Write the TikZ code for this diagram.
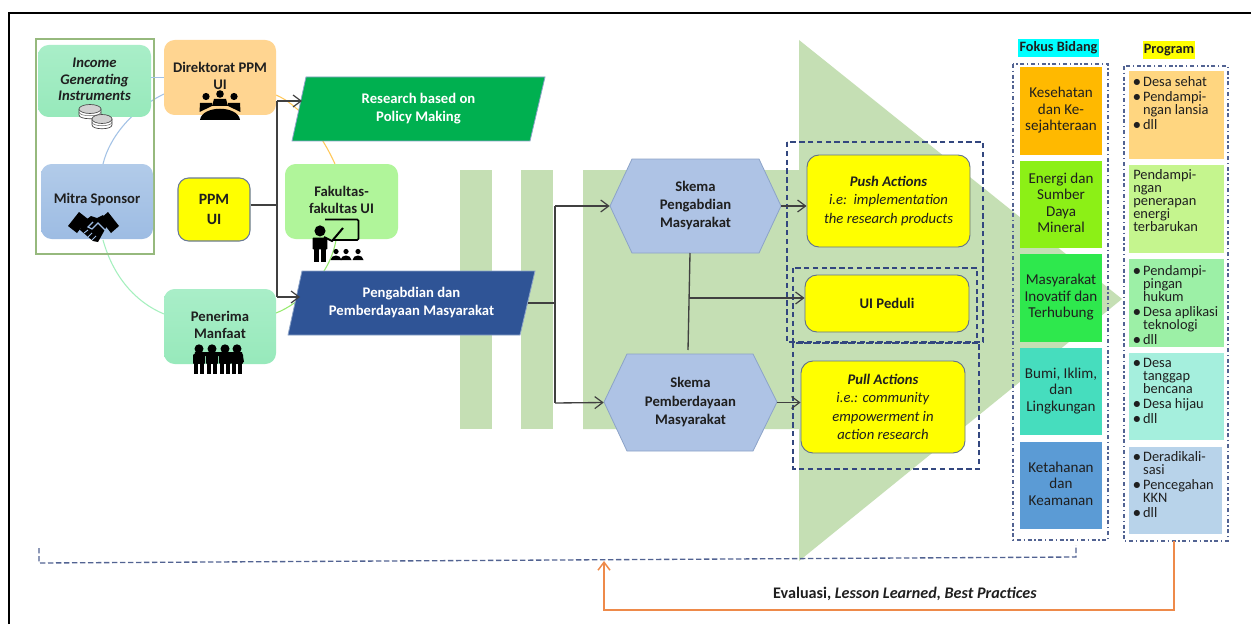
\documentclass[tikz,border=0pt]{standalone}
\usepackage{fontspec}
\setmainfont{Carlito}
\usetikzlibrary{arrows.meta}
\definecolor{yellow}{HTML}{FFFF00}
\definecolor{cyan}{HTML}{00FFFF}
\definecolor{barG}{HTML}{C5DFB4}
\definecolor{ink}{HTML}{1F1F1F}
\definecolor{dashB}{HTML}{33477F}
\definecolor{edgeB}{HTML}{8CA3C8}
\definecolor{orangeL}{HTML}{EE8A4A}
\definecolor{incT}{HTML}{A9EEC8}
\definecolor{incB}{HTML}{97E9BB}
\definecolor{mitT}{HTML}{B2CBE9}
\definecolor{mitB}{HTML}{9DBCE3}
\definecolor{penT}{HTML}{A9EEC8}
\definecolor{penB}{HTML}{97E9BB}
\definecolor{blueL}{HTML}{A3C2E6}
\definecolor{mintL}{HTML}{A5F0BE}
\definecolor{limeL}{HTML}{96EB6E}
\definecolor{amberL}{HTML}{FFC85A}
\definecolor{frameG}{HTML}{96B97D}
\newcommand{\bx}[7]{%
  \pgfmathsetmacro\bxw{(#4-#2)*0.75}\pgfmathsetmacro\bxh{(#5-#3)*0.75}%
  \node[#6,minimum width=\bxw pt,minimum height=\bxh pt] (#1) at ({(#2+#4)/2},{(#3+#5)/2}) {#7};}
\newcommand{\lines}[2]{\raisebox{#1}{\begin{tabular}{@{}c@{}}#2\end{tabular}}}
\newcommand{\fig}[3]{% x, top y, size
  \fill[black] (#1,{#2+#3*0.16}) circle[radius={#3*0.15}];
  \fill[black,rounded corners=0.6pt] ({#1-#3*0.2},{#2+#3*0.34}) rectangle ({#1+#3*0.2},{#2+#3*0.66});
  \fill[black] ({#1-#3*0.17},{#2+#3*0.6}) rectangle ({#1-#3*0.02},{#2+#3});
  \fill[black] ({#1+#3*0.02},{#2+#3*0.6}) rectangle ({#1+#3*0.17},{#2+#3});}
\newcommand{\seat}[2]{% small audience figure
  \fill[black] (#1,{#2-8.5}) circle[radius=2.6];
  \fill[black] ({#1-5.5},#2) .. controls ({#1-5},{#2-6}) and ({#1+5},{#2-6}) .. ({#1+5.5},#2) -- cycle;}
\newcommand{\coin}[3]{% x, y, half-width
  \draw[black!75,fill=white,line width=0.5pt] ({#1-#3},#2) -- ({#1-#3},{#2+6}) .. controls ({#1-#3},{#2+11}) and ({#1+#3},{#2+11}) .. ({#1+#3},{#2+6}) -- ({#1+#3},#2);
  \draw[black!70,fill=black!18,line width=0.5pt] (#1,#2) ellipse[x radius=#3,y radius=4.5];
  \draw[black!60,line width=0.4pt] ({#1-#3},{#2+3}) .. controls ({#1-#3},{#2+8}) and ({#1+#3},{#2+8}) .. ({#1+#3},{#2+3});}
\newcommand{\itm}{\makebox[7.4pt][l]{\raisebox{0.1pt}{\textbf{\textbullet}}}}
\newcommand{\ind}{\hspace*{7.4pt}}
\tikzset{
  x=0.75pt,y=-0.75pt,
  lbl/.style={inner sep=0pt,align=center,text=ink,font=\fontsize{11}{12.4}\selectfont},
  blbl/.style={lbl,font=\fontsize{11}{12.4}\selectfont\bfseries},
  round/.style={rounded corners=8pt,blbl},
  ybox/.style={rounded corners=9pt,draw=edgeB!70!black,line width=0.7pt,fill=yellow,lbl,font=\fontsize{11}{13.7}\selectfont},
  fokus/.style={lbl,font=\fontsize{11.3}{12.4}\selectfont},
  prog/.style={inner sep=0pt},
  progt/.style={inner sep=0pt,anchor=north west,align=left,text=ink,font=\fontsize{10.8}{9.8}\selectfont},
  poly/.style={draw=edgeB,line width=0.6pt},
  plain/.style={inner sep=0pt},
  wire/.style={draw=black!75,line width=1pt},
  tip/.style={wire,-{Straight Barb[length=6pt,width=9pt,line width=0.9pt]}},
  dbox/.style={draw=dashB,line width=1pt,dash pattern=on 4pt off 2.6pt},
  dotbox/.style={draw=dashB!85,line width=1.1pt,dash pattern=on 3pt off 2pt on 1pt off 2pt},
  assoc/.style={line width=0.8pt},
  shakeline/.style={draw=mitB}
}
\begin{document}
\begin{tikzpicture}
\useasboundingbox (0,0) rectangle (1251,624);
\fill[white] (0,0) rectangle (1251,624);
\draw[black,line width=1.6pt] (9,624) -- (9,13) -- (1251,13);

% background arrow
\fill[barG] (460,170) rectangle (492,429);
\fill[barG] (521,170) rectangle (553,429);
\fill[barG] (583,170) -- (799,170) -- (799,40) -- (1122,299) -- (799,561) -- (799,429) -- (583,429) -- cycle;

% named free ends
\coordinate (cMitraTop) at (103,164);
\coordinate (cDirL) at (164,94);
\coordinate (cMitraBot) at (103,240);
\coordinate (cPenL) at (164,314);
\coordinate (cPenR) at (276,313);
\coordinate (cFakB) at (336,240);
\coordinate (cDirR) at (276,95);
\coordinate (cFakT) at (335,164);

\draw[assoc,draw=blueL] (cMitraTop) .. controls (110,135) and (135,108) .. (cDirL);
\draw[assoc,draw=mintL] (cMitraBot) .. controls (113,276) and (135,302) .. (cPenL);
\draw[assoc,draw=limeL] (cPenR) .. controls (300,304) and (330,275) .. (cFakB);
\draw[assoc,draw=amberL] (cDirR) .. controls (300,105) and (322,135) .. (cFakT);

% left frame
\draw[draw=frameG,line width=0.8pt] (36,39) rectangle (154,254);

% rounded boxes
\bx{income}{38}{45}{151}{117}{round,top color=incT,bottom color=incB,font=\fontsize{11}{12.4}\selectfont\bfseries\itshape}{\lines{1.5pt}{Income\\Generating\\Instruments}}
\bx{dir}{164}{40}{276}{115}{round,fill={rgb,255:red,255;green,213;blue,145}}{\lines{9.5pt}{Direktorat PPM\\UI}}
\bx{mitra}{41}{164}{153}{239}{round,top color=mitT,bottom color=mitB}{\raisebox{4pt}{Mitra Sponsor}}
\bx{ppm}{178}{178}{250}{241}{rounded corners=8pt,fill=yellow,draw=edgeB!75!black,line width=0.8pt,lbl,font=\fontsize{11.8}{15}\selectfont\bfseries}{PPM\\UI}
\bx{fak}{285}{164}{398}{239}{round,fill={rgb,255:red,176;green,245;blue,154}}{\lines{5pt}{Fakultas-\\fakultas UI}}
\bx{pen}{164}{289}{276}{364}{round,top color=penT,bottom color=penB}{\lines{7pt}{Penerima\\Manfaat}}

% short association stub
\draw[assoc,draw=blueL] (dir.west) -- (income.east |- dir.west);

% coins
\coin{90}{109}{11}
\coin{102}{119}{10}

% meeting icon
\fill[black] (206,96.5) circle[radius=3.6];
\fill[black] (220,94) circle[radius=3.8];
\fill[black] (234,96.5) circle[radius=3.6];
\fill[black] (199.5,112) -- (200,103) -- (212,103) -- (212,106) -- cycle;
\fill[black] (240.5,112) -- (240,103) -- (228,103) -- (228,106) -- cycle;
\fill[black] (212,106) -- (214,99) -- (226,99) -- (228,106) -- cycle;
\fill[black] (200,120) .. controls (202,105) and (238,105) .. (240,120) -- cycle;

% handshake icon
\fill[black] (68,226) -- (79,212) -- (88,219) -- (77,233) -- cycle;
\fill[black] (119,226) -- (108,212) -- (100,219) -- (111,233) -- cycle;
\fill[black] (82,223) -- (91,216) -- (97,218) -- (103,215) -- (108,224) -- (98,242) -- (93,241) -- (80,230) -- cycle;
\draw[shakeline,line width=0.9pt] (93,222) -- (88,227) -- (92,229) -- (98,223) -- (107,232);
\draw[shakeline,line width=0.7pt] (84,233) -- (88,230);
\draw[shakeline,line width=0.7pt] (88,237) -- (92,233);
\draw[shakeline,line width=0.7pt] (92,240) -- (96,236);

% teacher icon
\draw[black,line width=1.2pt,rounded corners=1pt] (325,219.5) -- (358.5,219.5) -- (358.5,240) -- (333,240);
\fig{320}{225}{37}
\draw[black,line width=1.5pt] (324,237) -- (332,241) -- (343,228);
\seat{336}{260}
\seat{346}{260}
\seat{358}{260}

% people icon
\fig{199}{344}{30}
\fig{212}{344}{30}
\fig{225}{344}{30}
\fig{237}{344}{30}
\fill[black] (193,362) -- (195,352) -- (242,352) -- (244,362) -- (240,362) -- (238,356) -- (198,356) -- (196,362) -- cycle;

% parallelograms
\fill[fill={rgb,255:red,0;green,176;blue,80},poly] (306,77) -- (545,77) -- (530,141) -- (292,141) -- cycle;
\bx{res}{292}{77}{545}{141}{plain,align=center,text=white,font=\fontsize{11}{13.7}\selectfont\bfseries}{\lines{-1pt}{Research based on\\Policy Making}}
\fill[fill={rgb,255:red,47;green,84;blue,150},poly] (302,271) -- (535,271) -- (520,335) -- (288,335) -- cycle;
\bx{pem}{288}{271}{535}{335}{plain,align=center,text=white,font=\fontsize{11}{13.7}\selectfont\bfseries}{\lines{-1pt}{Pengabdian dan\\Pemberdayaan Masyarakat}}

% hexagons
\fill[fill={rgb,255:red,174;green,195;blue,229},poly] (610,206) -- (632,159) -- (759,159) -- (781,206) -- (759,253) -- (632,253) -- cycle;
\bx{hexa}{610}{159}{781}{253}{plain,blbl,font=\fontsize{11}{13.7}\selectfont\bfseries}{\lines{-0.6pt}{Skema\\Pengabdian\\Masyarakat}}
\fill[fill={rgb,255:red,174;green,195;blue,229},poly] (604,402) -- (627,354) -- (753,354) -- (777,402) -- (753,451) -- (627,451) -- cycle;
\bx{hexb}{604}{354}{777}{451}{plain,blbl,font=\fontsize{11}{13.7}\selectfont\bfseries}{\lines{-0.6pt}{Skema\\Pemberdayaan\\Masyarakat}}

% yellow boxes
\bx{push}{807}{155}{970}{247}{ybox}{\textbf{\textit{Push Actions}}\\\textit{i.e:\ \ implementation}\\\textit{the research products}}
\bx{peduli}{805}{275}{969}{332}{ybox,font=\fontsize{11}{12.4}\selectfont\bfseries}{UI Peduli}
\bx{pull}{801}{361}{965}{453}{ybox}{\textbf{\textit{Pull Actions}}\\\textit{i.e.: community}\\\textit{empowerment in}\\\textit{action research}}

% dashed groups
\draw[dbox] (787,142) rectangle (983,342);
\draw[dbox] (793,268) rectangle (977,343);
\draw[dbox] (793,343) rectangle (979,469);

% wires
\coordinate (jPpm) at (277,205);
\coordinate (jTop) at (277,101);
\coordinate (jBot) at (277,297);
\coordinate (aRes) at (302,101);
\coordinate (aPem) at (300,297);
\draw[wire] (ppm.east |- jPpm) -- (jPpm);
\draw[wire] (jTop) -- (jBot);
\draw[tip] (jTop) -- (aRes);
\draw[tip] (jBot) -- (aPem);
\coordinate (pemR) at (528,303);
\coordinate (kMid) at (555,303);
\coordinate (kTop) at (555,206);
\coordinate (kBot) at (555,403);
\draw[wire] (pemR) -- (kMid);
\draw[wire] (kTop) -- (kBot);
\draw[tip] (kTop) -- (hexa.west);
\draw[tip] (kBot) -- (hexb.west);
\draw[tip] (hexa.east) -- (hexa.east -| push.west);
\coordinate (hT) at (690,253);
\coordinate (hB) at (688,350);
\coordinate (hM) at (689,298);
\draw[wire] (hT) -- (hB);
\draw[tip] (hM) -- (hM -| peduli.west);
\draw[tip] (hexb.east) -- (hexb.east -| pull.west);

% Fokus Bidang
\node[fill=cyan,inner sep=0pt,minimum width=60.8pt,minimum height=13.5pt,font=\fontsize{10.7}{11}\selectfont\bfseries,text=ink] (hf) at (1058.5,48) {Fokus Bidang};
\node[fill=yellow,inner sep=0pt,minimum width=39pt,minimum height=13.5pt,font=\fontsize{10.7}{11}\selectfont\bfseries,text=ink] (hp) at (1169,50) {Program};
\draw[dotbox] (1013,64) rectangle (1108,540);
\draw[dotbox] (1124,66) rectangle (1228,541);
\bx{f1}{1020}{67}{1102}{155}{fokus,fill={rgb,255:red,255;green,185;blue,0}}{\lines{1.5pt}{Kesehatan\\dan Ke-\\sejahteraan}}
\bx{f2}{1020}{161}{1102}{248}{fokus,fill={rgb,255:red,140;green,240;blue,22}}{\lines{1.5pt}{Energi dan\\Sumber\\Daya\\Mineral}}
\bx{f3}{1020}{254}{1102}{342}{fokus,fill={rgb,255:red,46;green,232;blue,77}}{\lines{1.5pt}{Masyarakat\\Inovatif dan\\Terhubung}}
\bx{f4}{1020}{348}{1102}{435}{fokus,fill={rgb,255:red,70;green,221;blue,190}}{\lines{1.5pt}{Bumi, Iklim,\\dan\\Lingkungan}}
\bx{f5}{1020}{442}{1102}{529}{fokus,fill={rgb,255:red,91;green,155;blue,213}}{\lines{1.5pt}{Ketahanan\\dan\\Keamanan}}

% Program
\bx{p1}{1129}{71}{1224}{159}{prog,fill={rgb,255:red,255;green,214;blue,128}}{}
\bx{p2}{1129}{165}{1224}{253}{prog,fill={rgb,255:red,197;green,245;blue,142}}{}
\bx{p3}{1129}{259}{1224}{347}{prog,fill={rgb,255:red,156;green,240;blue,166}}{}
\bx{p4}{1129}{353}{1224}{440}{prog,fill={rgb,255:red,165;green,239;blue,221}}{}
\bx{p5}{1129}{447}{1222}{534}{prog,fill={rgb,255:red,184;green,211;blue,234}}{}
\node[progt] (t1) at (1133,76) {\itm Desa sehat\\[1.5pt]\itm Pendampi-\\\ind ngan lansia\\[1.5pt]\itm dll};
\node[progt] (t2) at (1133,169) {Pendampi-\\ngan\\penerapan\\energi\\terbarukan};
\node[progt] (t3) at (1133,265) {\itm Pendampi-\\\ind pingan\\\ind hukum\\[1.5pt]\itm Desa aplikasi\\\ind teknologi\\[1.5pt]\itm dll};
\node[progt] (t4) at (1133,358) {\itm Desa\\\ind tanggap\\\ind bencana\\[1.5pt]\itm Desa hijau\\[1.5pt]\itm dll};
\node[progt] (t5) at (1133,451) {\itm Deradikali-\\\ind sasi\\[1.5pt]\itm Pencegahan\\\ind KKN\\[1.5pt]\itm dll};

% feedback
\coordinate (fbL) at (39,548);
\coordinate (fbLb) at (39,563);
\coordinate (fbR) at (1076,557);
\coordinate (fbOut) at (1076,545);
\coordinate (fbIn) at (604,561);
\coordinate (orT) at (1174,541);
\coordinate (orB) at (1174,610);
\coordinate (orL) at (604,610);
\draw[dashB!85,line width=1pt,dash pattern=on 4pt off 2pt] (fbL) -- (fbLb) -- (fbR) -- (fbOut);
\draw[orangeL,line width=1.3pt,-{Straight Barb[length=6pt,width=9pt,line width=1.1pt]}] (orT) -- (orB) -- (orL) -- (fbIn);
\node[inner sep=0pt,text=ink,font=\fontsize{12.1}{12}\selectfont\bfseries] (ev) at (905,594) {Evaluasi, \textit{Lesson Learned, Best Practices}};
\end{tikzpicture}
\end{document}
